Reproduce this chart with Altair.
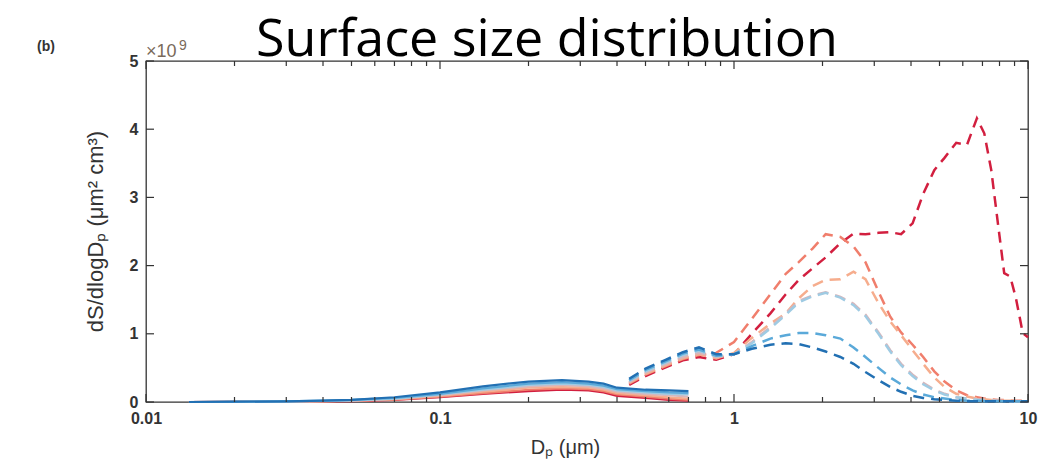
import altair as alt
import pandas as pd

# Particle diameters (µm) sampled by each instrument
SOLID_D = [0.014, 0.02, 0.03, 0.04, 0.05, 0.07, 0.1, 0.14, 0.2, 0.26, 0.32, 0.36, 0.4, 0.5, 0.6, 0.7]
DASH_D = [0.44, 0.5, 0.58, 0.67, 0.76, 0.87, 1.0, 1.15, 1.33, 1.5, 1.66, 1.85, 2.05, 2.3, 2.55,
          2.8, 3.1, 3.4, 3.7, 4.05, 4.4, 4.8, 5.2, 5.7, 6.2, 6.7, 7.1, 7.5, 7.9, 8.3, 8.7, 9.1, 9.6, 10]

SERIES = ["c1", "c2", "c3", "c4", "c5", "c6", "c7"]
COLORS = ["#d21f3f", "#f07e6c", "#f6ad8d", "#d8b6ba", "#9fcbe3", "#5aa9d9", "#2270b3"]

# dS/dlogDp in units of 1e9 µm² cm⁻³, fine mode (solid)
SOLID_VALS = {
    "c1": [0, 0.002, 0.004, 0.008, 0.012, 0.03, 0.07, 0.12, 0.16, 0.18, 0.17, 0.14, 0.09, 0.06, 0.03, 0.02],
    "c2": [0, 0.002, 0.005, 0.01, 0.015, 0.035, 0.08, 0.13, 0.18, 0.20, 0.19, 0.16, 0.11, 0.08, 0.05, 0.03],
    "c3": [0, 0.003, 0.006, 0.012, 0.02, 0.04, 0.09, 0.15, 0.21, 0.22, 0.21, 0.18, 0.13, 0.10, 0.07, 0.05],
    "c4": [0, 0.003, 0.007, 0.013, 0.02, 0.045, 0.10, 0.17, 0.23, 0.25, 0.23, 0.20, 0.15, 0.12, 0.10, 0.08],
    "c5": [0, 0.004, 0.008, 0.015, 0.025, 0.05, 0.11, 0.18, 0.25, 0.27, 0.25, 0.22, 0.17, 0.14, 0.12, 0.11],
    "c6": [0, 0.004, 0.01, 0.02, 0.03, 0.06, 0.12, 0.20, 0.27, 0.29, 0.27, 0.24, 0.19, 0.16, 0.14, 0.13],
    "c7": [0, 0.005, 0.01, 0.02, 0.03, 0.07, 0.14, 0.23, 0.30, 0.32, 0.30, 0.27, 0.21, 0.18, 0.17, 0.16],
}

# coarse mode (dashed)
DASH_VALS = {
    "c1": [0.25, 0.38, 0.50, 0.61, 0.66, 0.62, 0.70, 1.00, 1.30, 1.58, 1.79, 1.96, 2.12, 2.33, 2.47, 2.46,
           2.48, 2.49, 2.46, 2.62, 3.05, 3.40, 3.58, 3.80, 3.77, 4.16, 3.94, 3.40, 2.62, 1.89, 1.84, 1.52, 1.01, 0.95],
    "c2": [0.27, 0.40, 0.52, 0.63, 0.69, 0.72, 0.88, 1.22, 1.58, 1.88, 2.05, 2.25, 2.46, 2.42, 2.28, 2.05,
           1.62, 1.25, 1.02, 0.84, 0.66, 0.45, 0.30, 0.17, 0.10, 0.07, 0.05, 0.04, 0.03, 0.03, 0.02, 0.02, 0.02, 0.01],
    "c3": [0.28, 0.41, 0.53, 0.64, 0.70, 0.64, 0.72, 0.94, 1.15, 1.30, 1.52, 1.70, 1.79, 1.80, 1.91, 1.80,
           1.45, 1.18, 0.98, 0.76, 0.56, 0.36, 0.22, 0.12, 0.08, 0.05, 0.04, 0.03, 0.03, 0.02, 0.02, 0.02, 0.01, 0.01],
    "c4": [0.29, 0.43, 0.55, 0.66, 0.72, 0.66, 0.70, 0.88, 1.10, 1.30, 1.48, 1.56, 1.61, 1.54, 1.44, 1.28,
           1.02, 0.76, 0.56, 0.40, 0.28, 0.18, 0.12, 0.07, 0.05, 0.04, 0.03, 0.02, 0.02, 0.02, 0.01, 0.01, 0.01, 0.01],
    "c5": [0.31, 0.45, 0.57, 0.69, 0.75, 0.67, 0.70, 0.86, 1.08, 1.28, 1.46, 1.55, 1.60, 1.53, 1.42, 1.26,
           1.00, 0.74, 0.54, 0.38, 0.26, 0.17, 0.11, 0.07, 0.05, 0.03, 0.03, 0.02, 0.02, 0.01, 0.01, 0.01, 0.01, 0.01],
    "c6": [0.32, 0.47, 0.59, 0.71, 0.77, 0.68, 0.70, 0.82, 0.93, 0.98, 1.01, 1.01, 0.98, 0.93, 0.80, 0.66,
           0.50, 0.36, 0.26, 0.17, 0.11, 0.07, 0.05, 0.03, 0.02, 0.02, 0.01, 0.01, 0.01, 0.01, 0.01, 0.01, 0.01, 0.01],
    "c7": [0.34, 0.49, 0.61, 0.73, 0.80, 0.70, 0.70, 0.78, 0.84, 0.86, 0.85, 0.80, 0.74, 0.66, 0.56, 0.44,
           0.32, 0.22, 0.15, 0.09, 0.06, 0.04, 0.03, 0.02, 0.01, 0.01, 0.01, 0.01, 0.01, 0.01, 0.01, 0.01, 0.01, 0.01],
}

X_LABELS = [0.01, 0.1, 1, 10]
X_MINOR = [0.02, 0.03, 0.04, 0.05, 0.06, 0.07, 0.08, 0.09,
           0.2, 0.3, 0.4, 0.5, 0.6, 0.7, 0.8, 0.9,
           2, 3, 4, 5, 6, 7, 8, 9]
Y_TICKS = [0, 1, 2, 3, 4, 5]

W, H = 882, 341

solid_rows = [{"D": d, "v": v, "s": s} for s in SERIES for d, v in zip(SOLID_D, SOLID_VALS[s])]
dash_rows = [{"D": d, "v": v, "s": s} for s in SERIES for d, v in zip(DASH_D, DASH_VALS[s])]

xscale = alt.Scale(type="log", domain=[0.01, 10], nice=False)
yscale = alt.Scale(domain=[0, 5], nice=False)
cscale = alt.Scale(domain=SERIES, range=COLORS)

label_font = "Liberation Sans"
ink = "#333"

x_axis = alt.Axis(values=X_LABELS, labelExpr="format(datum.value, '~g')", ticks=False, domain=False,
                  grid=False, labelFont=label_font, labelFontSize=16, labelFontWeight="bold",
                  labelColor=ink, labelPadding=8, labelFlush=False,
                  title="Dₚ (μm)", titleFont=label_font, titleFontSize=20, titleFontWeight="normal",
                  titleColor=ink, titleX=419, titleY=45, titleBaseline="middle", titleAnchor="middle")
y_axis = alt.Axis(values=Y_TICKS, format="d", ticks=False, domain=False, grid=False,
                  labelFont=label_font, labelFontSize=16, labelFontWeight="bold", labelColor=ink,
                  labelPadding=8, labelFlush=False,
                  title="dS/dlogDₚ (μm² cm³)", titleFont=label_font, titleFontSize=22,
                  titleFontWeight="normal", titleColor=ink, titleX=-51, titleY=170,
                  titleAngle=-90, titleBaseline="middle", titleAlign="center")

solid = alt.Chart(pd.DataFrame(solid_rows)).mark_line(strokeWidth=2.2).encode(
    x=alt.X("D:Q", scale=xscale, axis=x_axis),
    y=alt.Y("v:Q", scale=yscale, axis=y_axis),
    color=alt.Color("s:N", scale=cscale, legend=None),
    detail="s:N",
)

dashed = alt.Chart(pd.DataFrame(dash_rows)).mark_line(strokeWidth=2.5, strokeDash=[11, 7]).encode(
    x=alt.X("D:Q", scale=xscale),
    y=alt.Y("v:Q", scale=yscale),
    color=alt.Color("s:N", scale=cscale, legend=None),
    detail="s:N",
)

major_df = pd.DataFrame({"D": X_LABELS})
minor_df = pd.DataFrame({"D": X_MINOR})
ytick_df = pd.DataFrame({"v": Y_TICKS})


def xticks(df, length):
    bottom = alt.Chart(df).mark_rule(color=ink, strokeWidth=1.2).encode(
        x=alt.X("D:Q", scale=xscale), y=alt.value(H), y2=alt.value(H - length))
    top = alt.Chart(df).mark_rule(color=ink, strokeWidth=1.2).encode(
        x=alt.X("D:Q", scale=xscale), y=alt.value(0), y2=alt.value(length))
    return bottom + top


yticks_left = alt.Chart(ytick_df).mark_rule(color=ink, strokeWidth=1.2).encode(
    y=alt.Y("v:Q", scale=yscale), x=alt.value(0), x2=alt.value(8))
yticks_right = alt.Chart(ytick_df).mark_rule(color=ink, strokeWidth=1.2).encode(
    y=alt.Y("v:Q", scale=yscale), x=alt.value(W), x2=alt.value(W - 8))


def label(text, x, y, **kw):
    return alt.Chart(pd.DataFrame({"t": [text]})).mark_text(**kw).encode(
        text="t:N", x=alt.value(x), y=alt.value(y))


title = label("Surface size distribution", 401, -5, font="Open Sans", fontSize=52, color="#000",
              align="center", baseline="alphabetic")
panel = label("(b)", -109, -14, font=label_font, fontSize=14, fontWeight="bold", color=ink,
              align="left", baseline="middle")
exp_base = label("×10", 0, -4, font=label_font, fontSize=18, color="#7a6a5a",
                 align="left", baseline="alphabetic")
exp_power = label("9", 33, -11, font=label_font, fontSize=14, color="#7a6a5a",
                  align="left", baseline="alphabetic")

chart = alt.layer(
    solid, dashed,
    xticks(major_df, 8), xticks(minor_df, 5),
    yticks_left, yticks_right,
    title, panel, exp_base, exp_power,
).properties(
    width=W, height=H,
    autosize=alt.AutoSizeParams(type="none"),
    padding={"left": 146, "top": 61, "right": 10, "bottom": 69},
    background="white",
).configure_view(stroke=ink, strokeWidth=1.3)

chart.save("out.html", embed_options={"renderer": "svg", "actions": False})
